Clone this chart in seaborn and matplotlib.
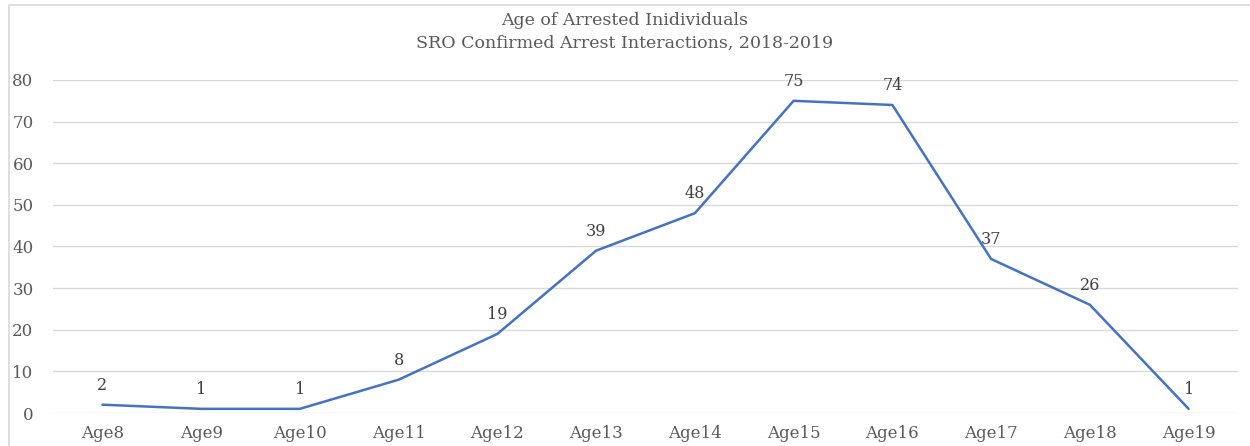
import matplotlib
matplotlib.use('Agg')
import matplotlib.pyplot as plt
import seaborn as sns
import pandas as pd
from matplotlib.patches import Rectangle

ages = ['Age8', 'Age9', 'Age10', 'Age11', 'Age12', 'Age13',
        'Age14', 'Age15', 'Age16', 'Age17', 'Age18', 'Age19']
arrests = [2, 1, 1, 8, 19, 39, 48, 75, 74, 37, 26, 1]
y_ticks = [0, 10, 20, 30, 40, 50, 60, 70, 80]

title = 'Age of Arrested Inidividuals\nSRO Confirmed Arrest Interactions, 2018-2019'

sns.set_theme(style='white')
plt.rcParams['font.family'] = ['DejaVu Serif', 'Liberation Serif']

df = pd.DataFrame({'age': ages, 'count': arrests})
df['pos'] = range(len(ages))

fig = plt.figure(figsize=(12.5, 4.46), dpi=100)
ax = fig.add_axes([53 / 1250, 1 - 413 / 446, (1238 - 53) / 1250, (413 - 80) / 446])

# gridlines behind the line
for t in y_ticks:
    ax.axhline(t, color='#d9d9d9', lw=1.0, zorder=0)

sns.lineplot(data=df, x='pos', y='count', ax=ax, color='#4472C4', lw=1.8, zorder=3)

for p, v in zip(df['pos'], df['count']):
    ax.annotate(str(v), (p, v), xytext=(0, 8), textcoords='offset points',
                ha='center', va='bottom', fontsize=11.5, color='#404040')

ax.set_xlim(-0.5, len(ages) - 0.5)
ax.set_ylim(0, 80)
ax.set_xticks(df['pos'])
ax.set_xticklabels(ages)
ax.set_yticks(y_ticks)
ax.tick_params(axis='both', labelsize=12, labelcolor='#595959', length=0)
ax.tick_params(axis='x', pad=9)
ax.tick_params(axis='y', pad=14)
ax.set_xlabel('')
ax.set_ylabel('')
for s in ax.spines.values():
    s.set_visible(False)

fig.text(0.5, 1 - 32 / 446, title, ha='center', va='center',
         fontsize=12.5, color='#595959', linespacing=1.5)

# chart border
fig.patches.append(Rectangle((9 / 1250, -0.05), 1.1, 1 - 5 / 446 + 0.05,
                             transform=fig.transFigure, fill=False,
                             edgecolor='#d9d9d9', lw=1.2))

fig.savefig('out.png', dpi=100)
